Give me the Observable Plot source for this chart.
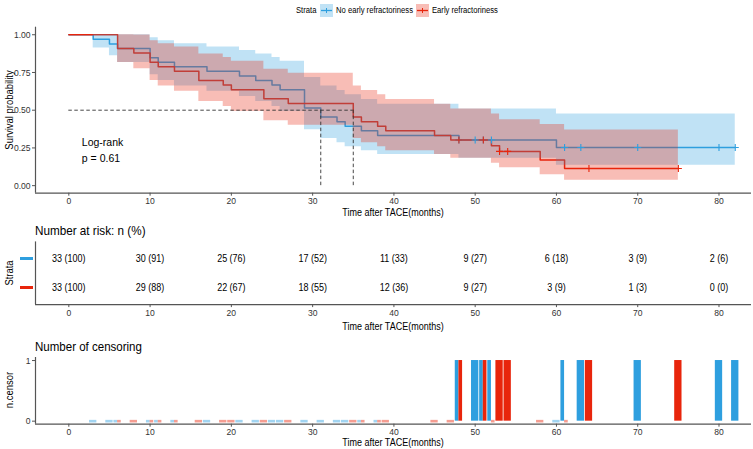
<!DOCTYPE html>
<html><head><meta charset="utf-8">
<script src="https://cdn.jsdelivr.net/npm/d3@7"></script>
<script src="https://cdn.jsdelivr.net/npm/@observablehq/plot@0.6"></script>
<style>
body{margin:0;background:#fff;}
#wrap{position:relative;width:753px;height:449px;overflow:hidden;font-family:'Liberation Sans',Arial,sans-serif;color:#000;}
.t{position:absolute;white-space:nowrap;line-height:1;}
</style></head><body><div id="wrap"></div>
<script>
// ---------- data ----------
const strata = ["No early refractoriness", "Early refractoriness"];
const xTicks = [0, 10, 20, 30, 40, 50, 60, 70, 80];
const yTicks = [0, 0.25, 0.5, 0.75, 1];

// Kaplan-Meier steps, "No early refractoriness"
const blueTime  = [0, 3, 5, 6, 10, 11, 13, 17, 21, 23, 25, 26, 29, 31, 33, 34, 36, 38, 48, 60, 82];
const blueSurv  = [1, 0.970, 0.939, 0.909, 0.848, 0.818, 0.788, 0.758, 0.727, 0.697, 0.667, 0.636, 0.515, 0.455, 0.424, 0.394, 0.364, 0.333, 0.303, 0.253, 0.253];
const blueLower = [1, 0.913, 0.861, 0.816, 0.735, 0.697, 0.660, 0.625, 0.590, 0.557, 0.524, 0.492, 0.370, 0.313, 0.285, 0.258, 0.232, 0.206, 0.181, 0.135, 0.135];
const blueUpper = [1, 1, 1, 1, 0.980, 0.961, 0.941, 0.919, 0.896, 0.873, 0.849, 0.824, 0.717, 0.661, 0.631, 0.602, 0.571, 0.540, 0.508, 0.474, 0.474];
const blueCensorTime = [48, 50, 51, 52, 61, 63, 70, 80, 82];

// Kaplan-Meier steps, "Early refractoriness"
const redTime  = [0, 6, 8, 10, 11, 13, 16, 19, 20, 24, 27, 35, 36, 38, 39, 45, 47, 52, 53, 58, 61, 75];
const redSurv  = [1, 0.909, 0.879, 0.818, 0.788, 0.758, 0.697, 0.667, 0.636, 0.576, 0.545, 0.455, 0.424, 0.394, 0.364, 0.333, 0.303, 0.265, 0.227, 0.170, 0.114, 0.114];
const redLower = [1, 0.816, 0.774, 0.697, 0.660, 0.625, 0.557, 0.524, 0.492, 0.430, 0.400, 0.313, 0.285, 0.258, 0.232, 0.206, 0.181, 0.149, 0.118, 0.072, 0.035, 0.035];
const redUpper = [1, 1, 0.998, 0.961, 0.941, 0.919, 0.873, 0.849, 0.824, 0.772, 0.745, 0.661, 0.631, 0.602, 0.571, 0.540, 0.508, 0.474, 0.437, 0.405, 0.369, 0.369];
const redCensorTime = [48, 51, 53, 54, 64, 75];

const medians = [31, 35];
const pvalLabel = "Log-rank\np = 0.61";

// Number at risk
const blueRisk = [33, 30, 25, 17, 11, 9, 6, 3, 2];
const bluePct  = [100, 91, 76, 52, 33, 27, 18, 9, 6];
const redRisk  = [33, 29, 22, 18, 12, 9, 3, 1, 0];
const redPct   = [100, 88, 67, 55, 36, 27, 9, 3, 0];

// Number of censoring (per survfit time)
const blueNTime   = [3, 5, 6, 10, 11, 13, 17, 21, 23, 25, 26, 29, 31, 33, 34, 36, 38, 48, 50, 51, 52, 60, 61, 63, 70, 80, 82];
const blueNCensor = [0, 0, 0, 0, 0, 0, 0, 0, 0, 0, 0, 0, 0, 0, 0, 0, 0, 1, 1, 1, 1, 0, 1, 1, 1, 1, 1];
const redNTime    = [6, 8, 10, 11, 13, 16, 19, 20, 24, 27, 35, 36, 38, 39, 45, 47, 48, 51, 52, 53, 54, 58, 61, 64, 75];
const redNCensor  = [0, 0, 0, 0, 0, 0, 0, 0, 0, 0, 0, 0, 0, 0, 0, 0, 1, 1, 0, 1, 1, 0, 0, 1, 1];

// ---------- styling ----------
const colBlue = "#2E9FDF", colRed = "#E8250C";
const font = "'Liberation Sans',Arial,sans-serif";
const W = 753;
const xDomain = [-4.1, 84];
const axisCol = "#555";
const K = 0.9; // horizontal condensing of labels
const wrap = document.getElementById("wrap");

function addText(txt, x, y, size, opts = {}) {
  const d = document.createElement("div");
  d.className = "t";
  d.textContent = txt;
  d.style.fontSize = size + "px";
  d.style.left = x + "px";
  d.style.top = y + "px";
  const k = opts.k ?? K;
  const a = opts.anchor || "start";
  let tf = "translate(" + (a === "middle" ? "-50%" : a === "end" ? "-100%" : "0") + ",-50%)";
  if (opts.rotate) { tf += " rotate(-90deg)"; d.style.transformOrigin = "center"; }
  else d.style.transformOrigin = a === "middle" ? "center" : a === "end" ? "right center" : "left center";
  tf += ` scaleX(${k})`;
  d.style.transform = tf;
  if (opts.color) d.style.color = opts.color;
  wrap.appendChild(d);
  return d;
}
function place(el, top) { el.style.position = "absolute"; el.style.left = "0px"; el.style.top = top + "px"; wrap.appendChild(el); }
function survAt(times, surv, t) { let s = surv[0]; times.forEach((tt, i) => { if (tt <= t) s = surv[i]; }); return s; }
function condense(root, sel, k) {
  root.querySelectorAll(sel).forEach(t => {
    const xa = t.getAttribute("x");
    let tf = t.getAttribute("transform") || "";
    if (xa !== null && !isNaN(+xa)) { tf += ` translate(${+xa},0)`; t.removeAttribute("x"); }
    t.setAttribute("transform", tf + ` scale(${k},1)`);
  });
}

const styleObj = {fontFamily: font, fontSize: "9.5px", color: "#333", background: "transparent", overflow: "visible"};

// ---------- legend ----------
function legendKey(color, x) {
  const ns = "http://www.w3.org/2000/svg";
  const s = document.createElementNS(ns, "svg");
  s.setAttribute("width", 13); s.setAttribute("height", 13);
  s.style.position = "absolute"; s.style.left = x + "px"; s.style.top = "3.5px";
  s.innerHTML = `<rect x="0" y="0" width="13" height="13" fill="${color}" fill-opacity="0.3"/>
  <line x1="1" x2="12" y1="6.5" y2="6.5" stroke="${color}" stroke-width="1.3"/>
  <line x1="6.5" x2="6.5" y1="4" y2="9" stroke="${color}" stroke-width="1"/>`;
  wrap.appendChild(s);
}
addText("Strata", 296, 10, 8.5);
legendKey(colBlue, 320);
addText(strata[0], 336, 10, 8.5);
legendKey(colRed, 416);
addText(strata[1], 432, 10, 8.5);

// ---------- main survival plot ----------
const blueKM = blueTime.map((t, i) => ({t, s: blueSurv[i], lo: blueLower[i], hi: blueUpper[i]}));
const redKM = redTime.map((t, i) => ({t, s: redSurv[i], lo: redLower[i], hi: redUpper[i]}));
const blueC = blueCensorTime.map(t => ({t, s: survAt(blueTime, blueSurv, t)}));
const redC = redCensorTime.map(t => ({t, s: survAt(redTime, redSurv, t)}));

const mainTop = 20;
const main = Plot.plot({
  width: W, height: 200, marginLeft: 35, marginRight: 2, marginTop: 6.7, marginBottom: 27.3,
  x: {domain: xDomain}, y: {domain: [-0.05, 1.05]},
  style: styleObj,
  marks: [
    Plot.line(blueKM, {x: "t", y: "s", curve: "step-after", stroke: colBlue, strokeWidth: 1.5}),
    Plot.line(redKM, {x: "t", y: "s", curve: "step-after", stroke: colRed, strokeWidth: 1.5}),
    Plot.areaY(blueKM, {x: "t", y1: "lo", y2: "hi", curve: "step-after", fill: colBlue, fillOpacity: 0.3}),
    Plot.areaY(redKM, {x: "t", y1: "lo", y2: "hi", curve: "step-after", fill: colRed, fillOpacity: 0.3}),
    Plot.ruleY([0.5], {x1: 0, x2: d3.max(medians), stroke: "#333", strokeWidth: 0.9, strokeDasharray: "3.5,2.5"}),
    Plot.ruleX(medians, {x: d => d, y1: 0, y2: 0.5, stroke: "#333", strokeWidth: 0.9, strokeDasharray: "3.5,2.5"}),
    Plot.dot(blueC, {x: "t", y: "s", symbol: "plus", r: 2.4, stroke: colBlue, strokeWidth: 1.1}),
    Plot.dot(redC, {x: "t", y: "s", symbol: "plus", r: 2.4, stroke: colRed, strokeWidth: 1.1}),
    Plot.text([pvalLabel], {x: 1.6, y: 0.245, text: d => d, textAnchor: "start", lineAnchor: "middle", lineHeight: 1.5, fontSize: 10.5, fill: "#000"}),
    Plot.ruleY([-0.05], {stroke: axisCol, strokeWidth: 1.2}),
    Plot.ruleX([xDomain[0]], {stroke: axisCol, strokeWidth: 1.2}),
    Plot.axisX({ticks: xTicks, tickSize: 3, tickPadding: 1, label: null, stroke: axisCol, fill: "#333"}),
    Plot.axisY({ticks: yTicks, tickFormat: d3.format(".2f"), tickSize: 3, tickPadding: 2, label: null, stroke: axisCol, fill: "#333"})
  ]
});
condense(main, 'g[aria-label*="axis"] text', K);
place(main, mainTop);
addText("Survival probability", 9, 110, 10.5, {anchor: "middle", rotate: true});
addText("Time after TACE(months)", 393, 213, 10, {anchor: "middle"});

// ---------- risk table ----------
const riskTop = 222;
addText("Number at risk: n (%)", 35, 230, 13);
const riskRows = [];
xTicks.forEach((t, i) => {
  riskRows.push({t, row: 2, label: `${blueRisk[i]} (${bluePct[i]})`});
  riskRows.push({t, row: 1, label: `${redRisk[i]} (${redPct[i]})`});
});
const risk = Plot.plot({
  width: W, height: 118, marginLeft: 35, marginRight: 2, marginTop: 19.4, marginBottom: 35.9,
  x: {domain: xDomain}, y: {domain: [0.4, 2.6], axis: null},
  style: styleObj,
  marks: [
    Plot.text(riskRows, {x: "t", y: "row", text: "label", fill: "#000", fontSize: 10}),
    Plot.ruleY([0.4], {stroke: axisCol, strokeWidth: 1.2}),
    Plot.ruleX([xDomain[0]], {stroke: axisCol, strokeWidth: 1.2}),
    Plot.axisX({ticks: xTicks, tickSize: 3, tickPadding: 1.5, label: null, stroke: axisCol, fill: "#333"})
  ]
});
condense(risk, "text", K);
place(risk, riskTop);
[[2, colBlue], [1, colRed]].forEach(([row, c]) => {
  const d = document.createElement("div");
  d.style.position = "absolute"; d.style.left = "20px"; d.style.width = "13px"; d.style.height = "3px";
  d.style.background = c;
  d.style.top = (riskTop + risk.scale("y").apply(row) - 1.5) + "px";
  wrap.appendChild(d);
});
addText("Strata", 9, 273, 10.5, {anchor: "middle", rotate: true});
addText("Time after TACE(months)", 393, 327, 10, {anchor: "middle"});

// ---------- number of censoring ----------
const censTop = 340;
addText("Number of censoring", 35, 347, 12.8);
function buildBars(times, counts, key) {
  return times.map((t, i) => ({t, n: counts[i], key}));
}
const allBars = buildBars(blueNTime, blueNCensor, 0).concat(buildBars(redNTime, redNCensor, 1));
const byTime = d3.group(allBars, d => d.t);
allBars.forEach(b => {
  const g = byTime.get(b.t);
  if (g.length > 1) { b.x1 = b.key === 0 ? b.t - 0.45 : b.t; b.x2 = b.key === 0 ? b.t : b.t + 0.45; }
  else { b.x1 = b.t - 0.45; b.x2 = b.t + 0.45; }
  b.color = b.key === 0 ? colBlue : colRed;
});
const cens = Plot.plot({
  width: W, height: 109, marginLeft: 35, marginRight: 2, marginTop: 17, marginBottom: 25.3,
  x: {domain: xDomain}, y: {domain: [-0.05, 1.05]},
  style: styleObj,
  marks: [
    Plot.ruleY(allBars.filter(d => d.n === 0), {y: 0, x1: "x1", x2: "x2", stroke: d => d.color, strokeWidth: 2.6, strokeOpacity: 0.45}),
    Plot.rectY(allBars.filter(d => d.n > 0), {x1: "x1", x2: "x2", y1: 0, y2: "n", fill: d => d.color}),
    Plot.ruleY([-0.05], {stroke: axisCol, strokeWidth: 1.2}),
    Plot.ruleX([xDomain[0]], {stroke: axisCol, strokeWidth: 1.2}),
    Plot.axisX({ticks: xTicks, tickSize: 3, tickPadding: 1.5, label: null, stroke: axisCol, fill: "#333"}),
    Plot.axisY({ticks: [0, 1], tickFormat: d3.format("d"), tickSize: 3, tickPadding: 2, label: null, stroke: axisCol, fill: "#333"})
  ]
});
condense(cens, "text", K);
place(cens, censTop);
addText("n.censor", 9, 390, 10.5, {anchor: "middle", rotate: true});
addText("Time after TACE(months)", 393, 443, 10, {anchor: "middle"});
</script></body></html>
